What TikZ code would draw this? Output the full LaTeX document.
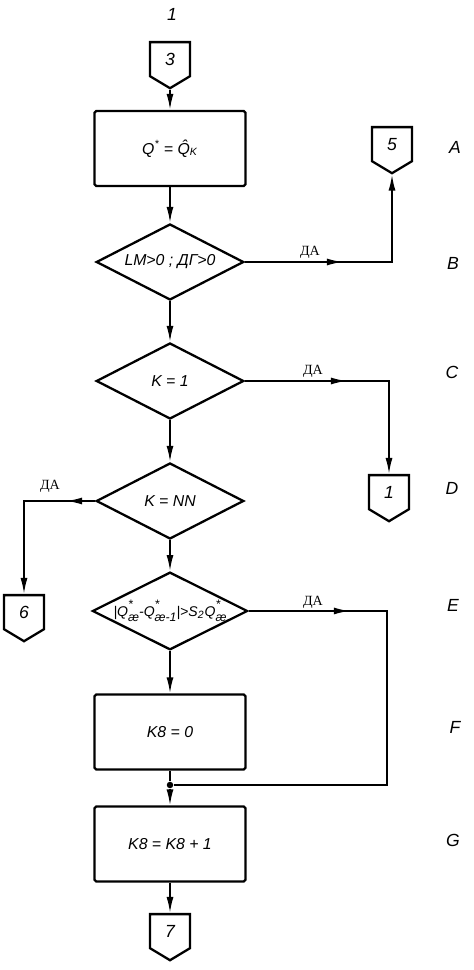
\documentclass[tikz,border=0pt]{standalone}
\usepackage{fontspec}
\setmainfont{Liberation Sans}
\newfontfamily\yesfont{Liberation Serif}
\usepackage{tikz}
\usetikzlibrary{arrows.meta, shapes.geometric, shapes.symbols, decorations.markings}

\newcommand{\qstarsub}[1]{Q\rlap{\raisebox{1.0ex}{\scriptsize*}}\raisebox{-0.7ex}{\scriptsize #1}}

\tikzset{
  procbox/.style={draw, line width=1.3pt, rounded corners=1pt, minimum width=3.02cm, minimum height=1.5cm, font=\small\itshape},
  decbox/.style={draw, diamond, aspect=2, inner sep=0pt, line width=1.3pt, minimum width=2.95cm, minimum height=1.52cm, font=\small\itshape},
  pagebox/.style={draw, signal, signal to=south, signal pointer angle=118, line width=1.3pt, minimum width=0.8cm, minimum height=0.74cm, inner sep=0pt, font=\itshape},
  flowline/.style={line width=1pt},
  flowarrow/.style={-{Latex[length=3.2mm,width=1.4mm]}},
  yesarrow/.style={postaction={decorate}, decoration={markings, mark=at position #1 with {\arrow{Latex[length=3.2mm,width=1.4mm]}}}},
  yeslabel/.style={font=\yesfont\footnotesize},
  rowlabel/.style={font=\itshape},
}

\begin{document}
\begin{tikzpicture}
  \useasboundingbox (0,0) rectangle (9.48,19.4);

  % --- Main column ---
  \node[font=\itshape] (sheet) at (3.44,19.12) {1};
  \node[pagebox, anchor=north] (c3) at (3.40,18.58) {3};
  \node[procbox] (r1) at (3.40,16.43) {Q\textsuperscript{*} = \^{Q}\textsubscript{K}};
  \node[decbox] (d1) at (3.40,14.16) {LM>0 ; ДГ>0};
  \node[decbox] (d2) at (3.40,11.78) {K = 1};
  \node[decbox] (d3) at (3.40,9.38) {K = NN};
  \node[decbox, font=\footnotesize\itshape] (d4) at (3.40,7.18) {|\qstarsub{æ}-\qstarsub{æ-1}|>S\textsubscript{2}\qstarsub{æ}};
  \node[procbox] (rF) at (3.40,4.76) {K8 = 0};
  \node[procbox] (rG) at (3.40,2.52) {K8 = K8 + 1};
  \node[pagebox, anchor=north] (c7) at (3.40,1.14) {7};

  % --- Off-page connectors ---
  \node[pagebox, anchor=north] (c5) at (7.84,16.88) {5};
  \node[pagebox, anchor=north] (c1) at (7.78,9.92) {1};
  \node[pagebox, anchor=north] (c6) at (0.48,7.52) {6};

  % Junction
  \node[circle, fill, inner sep=0pt, minimum size=1.3mm] (jdot) at (3.40,3.70) {};
  \coordinate (bend) at (7.74,3.70);

  % --- Yes labels ---
  \node[yeslabel] (y1) at (6.20,14.36) {ДА};
  \node[yeslabel] (y2) at (6.26,11.98) {ДА};
  \node[yeslabel] (y3) at (1.00,9.68) {ДА};
  \node[yeslabel] (y4) at (6.26,7.36) {ДА};

  % --- Row labels ---
  \node[rowlabel] (rowA) at (9.10,16.46) {A};
  \node[rowlabel] (rowB) at (9.06,14.14) {B};
  \node[rowlabel] (rowC) at (9.04,11.96) {C};
  \node[rowlabel] (rowD) at (9.04,9.64) {D};
  \node[rowlabel] (rowE) at (9.06,7.30) {E};
  \node[rowlabel] (rowF) at (9.10,4.86) {F};
  \node[rowlabel] (rowG) at (9.06,2.60) {G};

  % --- Connectors ---
  \draw[flowline, flowarrow] (c3.south) -- (r1.north);
  \draw[flowline, flowarrow] (r1) -- (d1);
  \draw[flowline, flowarrow, yesarrow=1.96cm] (d1.east) -| (c5.south);
  \draw[flowline, flowarrow] (d1) -- (d2);
  \draw[flowline, flowarrow, yesarrow=2.04cm] (d2.east) -| (c1.north);
  \draw[flowline, flowarrow] (d2) -- (d3);
  \draw[flowline, flowarrow, yesarrow=0.58cm] (d3.west) -| (c6.north);
  \draw[flowline, flowarrow] (d3) -- (d4);
  \draw[flowline, yesarrow=2.02cm] (d4.east) -| (bend) -- (jdot);
  \draw[flowline, flowarrow] (d4) -- (rF);
  \draw[flowline] (rF) -- (jdot);
  \draw[flowline, flowarrow] (jdot) -- (rG);
  \draw[flowline, flowarrow] (rG) -- (c7.north);
\end{tikzpicture}
\end{document}
